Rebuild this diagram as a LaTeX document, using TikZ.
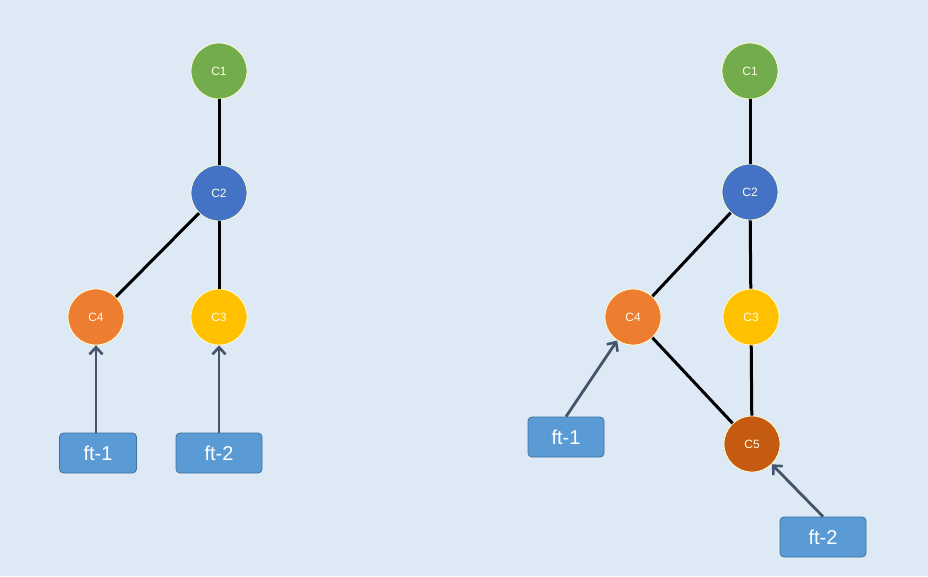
\documentclass[tikz,border=0pt]{standalone}
\usepackage{fontspec}
\setmainfont{Liberation Sans}
\usetikzlibrary{arrows.meta}

\definecolor{bgblue}{HTML}{DDE9F5}
\definecolor{cgreen}{HTML}{72AC4D}
\definecolor{cblue}{HTML}{4472C4}
\definecolor{corange}{HTML}{ED7D31}
\definecolor{cyellow}{HTML}{FFC000}
\definecolor{cbrown}{HTML}{C55A11}
\definecolor{ftfill}{HTML}{5B9BD5}
\definecolor{ftdraw}{HTML}{41719C}
\definecolor{ptrgray}{HTML}{44546A}

\tikzset{
	commit/.style={circle, draw=white!80!yellow, line width=0.8pt, minimum size=56pt, inner sep=0pt, text=white!90!yellow, font=\fontsize{12}{14}\selectfont},
	ftbox/.style={draw=ftdraw, fill=ftfill, line width=0.8pt, rounded corners=4pt, minimum height=40pt, text=white, font=\fontsize{20}{24}\selectfont},
	link/.style={line width=3pt, black},
	ptr/.style={-{Straight Barb[length=7pt, width=13pt, line width=2.6pt]}, line width=2.8pt, ptrgray}
}

\begin{document}
\begin{tikzpicture}[x=1pt, y=-1pt]
		\useasboundingbox[fill=bgblue] (0,0) rectangle (928,576);
		% left: before
		\node[commit, fill=cgreen] (l1) at (219,71) {C1};
		\node[commit, fill=cblue] (l2) at (219,193) {C2};
		\node[commit, fill=corange] (l4) at (96,317) {C4};
		\node[commit, fill=cyellow] (l3) at (219,317) {C3};
		\node[ftbox, minimum width=77pt] (lft1) at (98,453) {ft-1};
		\node[ftbox, minimum width=86pt] (lft2) at (219,453) {ft-2};
		\draw[link] (l1) -- (l2);
		\draw[link] (l2) -- (l4);
		\draw[link] (l2) -- (l3);
		\draw[ptr] (lft1.north -| l4) -- (l4);
		\draw[ptr] (lft2) -- (l3);
		% right: after
		\node[commit, fill=cgreen] (r1) at (750,71) {C1};
		\node[commit, fill=cblue] (r2) at (750,192) {C2};
		\node[commit, fill=corange] (r4) at (633,317) {C4};
		\node[commit, fill=cyellow] (r3) at (751,317) {C3};
		\node[commit, fill=cbrown] (r5) at (752,444) {C5};
		\node[ftbox, minimum width=76pt] (rft1) at (566,437) {ft-1};
		\node[ftbox, minimum width=86pt] (rft2) at (823,537) {ft-2};
		\draw[link] (r1) -- (r2);
		\draw[link] (r2) -- (r4);
		\draw[link] (r2) -- (r3);
		\draw[link] (r4) -- (r5);
		\draw[link] (r3) -- (r5);
		\draw[ptr] (rft1.north) -- (r4);
		\draw[ptr] (rft2.north) -- (r5);
	\end{tikzpicture}
\end{document}
